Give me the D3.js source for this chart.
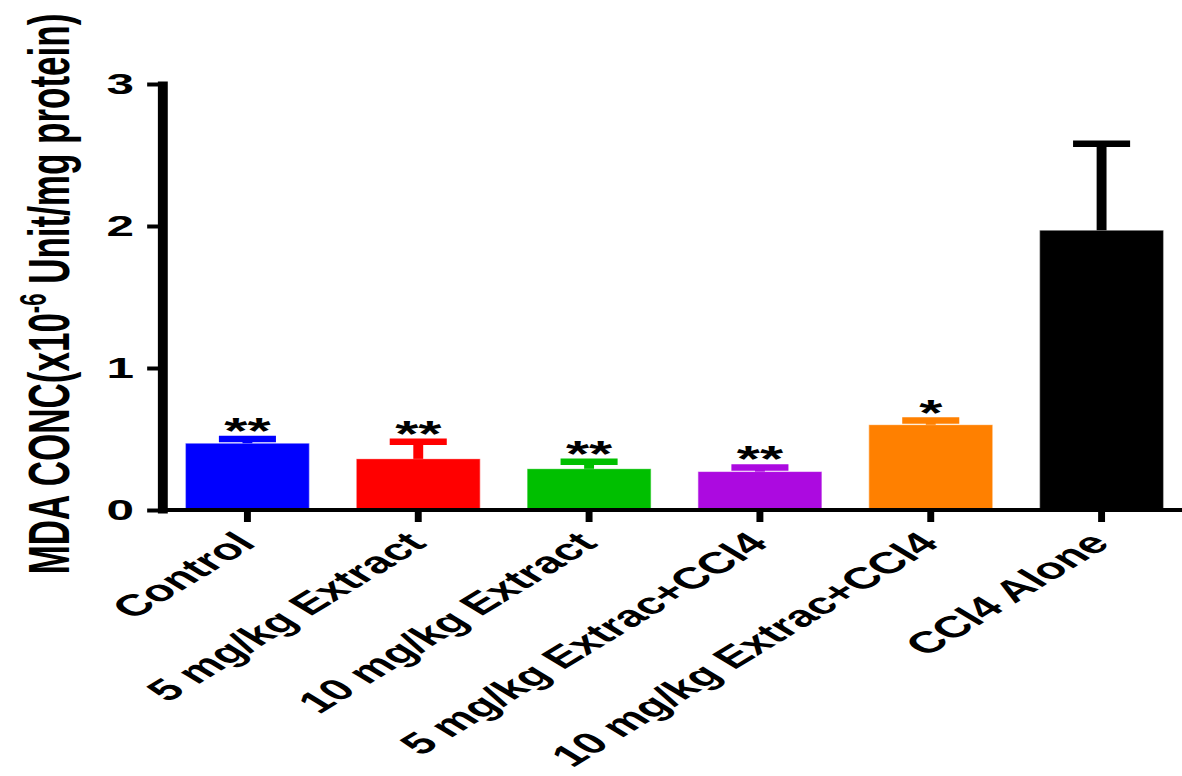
<!DOCTYPE html>
<html>
<head>
<meta charset="utf-8">
<script src="https://cdn.jsdelivr.net/npm/d3@7"></script>
<style>
  html, body { margin: 0; padding: 0; background: #fff; }
  svg { display: block; }
  text { font-family: "Liberation Sans", Arial, sans-serif; }
</style>
</head>
<body>
<svg id="chart" width="1182" height="776"></svg>
<script>
// ---- data ----
const categories = ["Control", "5 mg/kg Extract", "10 mg/kg Extract",
  "5 mg/kg Extrac+CCl4", "10 mg/kg Extrac+CCl4", "CCl4 Alone"];
const means  = [0.47, 0.36, 0.29, 0.27, 0.60, 1.97];
const errors = [0.03, 0.12, 0.05, 0.03, 0.03, 0.61];
const colors = ["#0000ff", "#ff0000", "#00bf00", "#ac0ae0", "#ff8000", "#000000"];
const marks  = ["**", "**", "**", "**", "*", ""];
const yTicks = [0, 1, 2, 3];

// ---- layout (figure is horizontally stretched) ----
const SX = 1.65;
const W = 1182, H = 776;
const Wu = W / SX;

const svg = d3.select("#chart");
const g = svg.append("g").attr("transform", `scale(${SX},1)`);

const x = d3.scaleBand().domain(categories)
  .range([162 / SX, 1187 / SX]).paddingInner(0.274).paddingOuter(0.137);
const y = d3.scaleLinear().domain([0, 3]).range([510, 84]);

const data = categories.map((c, i) => ({c, m: means[i], e: errors[i], col: colors[i], s: marks[i]}));

// bars
g.selectAll("rect.bar").data(data).enter().append("rect")
  .attr("class", "bar")
  .attr("x", d => x(d.c))
  .attr("width", x.bandwidth())
  .attr("y", d => y(d.m))
  .attr("height", d => y(0) - y(d.m))
  .attr("fill", d => d.col)
  .attr("stroke", "rgba(255,255,255,0.45)")
  .attr("stroke-width", 0.8);

// error bars (upper only)
const capW = x.bandwidth() * 0.46;
g.selectAll("line.stem").data(data).enter().append("line")
  .attr("x1", d => x(d.c) + x.bandwidth() / 2)
  .attr("x2", d => x(d.c) + x.bandwidth() / 2)
  .attr("y1", d => y(d.m))
  .attr("y2", d => y(d.m + d.e))
  .attr("stroke", d => d.col).attr("stroke-width", 6);
g.selectAll("line.cap").data(data).enter().append("line")
  .attr("x1", d => x(d.c) + x.bandwidth() / 2 - capW / 2)
  .attr("x2", d => x(d.c) + x.bandwidth() / 2 + capW / 2)
  .attr("y1", d => y(d.m + d.e))
  .attr("y2", d => y(d.m + d.e))
  .attr("stroke", d => d.col).attr("stroke-width", 6.5);

// significance asterisks
g.selectAll("text.sig").data(data).enter().append("text")
  .attr("x", d => x(d.c) + x.bandwidth() / 2)
  .attr("y", d => y(d.m + d.e) + 5)
  .attr("text-anchor", "middle")
  .attr("font-size", 36)
  .attr("font-weight", "bold")
  .attr("fill", "#000")
  .text(d => d.s);

// y axis
const yAxis = g.append("g").attr("transform", `translate(${162 / SX},0)`)
  .call(d3.axisLeft(y).tickValues(yTicks).tickSize(9).tickSizeOuter(0).tickPadding(8).tickFormat(d3.format("d")));
yAxis.select(".domain").attr("stroke", "#000").attr("stroke-width", 6).attr("stroke-linecap", "square");
yAxis.selectAll(".tick line").attr("stroke", "#000").attr("stroke-width", 4);
yAxis.selectAll(".tick text").attr("font-size", 30).attr("font-weight", "bold")
  .attr("fill", "#000").attr("font-family", "'Liberation Sans', Arial, sans-serif");

// x axis
const xAxis = g.append("g").attr("transform", `translate(0,${y(0)})`)
  .call(d3.axisBottom(x).tickSize(12).tickSizeOuter(0));
xAxis.select(".domain").remove();
xAxis.append("line").attr("x1", 162 / SX).attr("x2", Wu + 5).attr("y1", 0).attr("y2", 0)
  .attr("stroke", "#000").attr("stroke-width", 4);
xAxis.selectAll(".tick line").attr("stroke", "#000").attr("stroke-width", 4.2);
xAxis.selectAll(".tick text")
  .attr("font-size", 30).attr("font-weight", "bold").attr("fill", "#000")
  .attr("font-family", "'Liberation Sans', Arial, sans-serif")
  .attr("text-anchor", "end")
  .attr("dy", null)
  .attr("y", null)
  .attr("transform", `translate(${10 / SX},35) rotate(-45)`);

// y axis title
const title = g.append("text")
  .attr("transform", `translate(${69 / SX},294) rotate(-90)`)
  .attr("text-anchor", "middle")
  .attr("font-size", 35).attr("font-weight", "bold").attr("fill", "#000");
title.append("tspan").text("MDA CONC(x10");
title.append("tspan").attr("font-size", 22).attr("dy", -14).text("-6");
title.append("tspan").attr("dy", 14).text(" Unit/mg protein)");
</script>
</body>
</html>
